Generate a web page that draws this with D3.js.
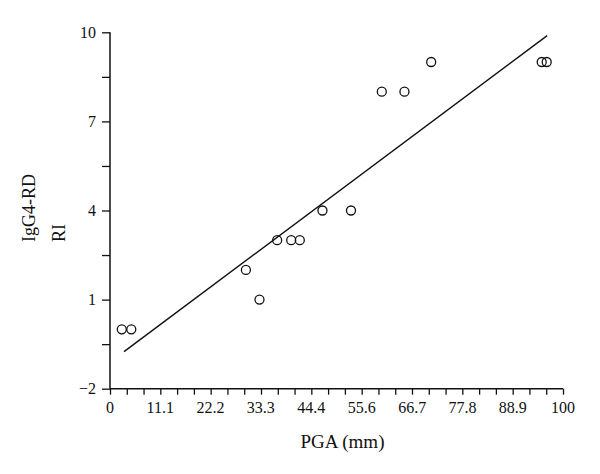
<!DOCTYPE html>
<html>
<head>
<meta charset="utf-8">
<script src="https://cdn.jsdelivr.net/npm/d3@7"></script>
<style>
  html, body { margin: 0; padding: 0; background: #fff; }
  svg { display: block; }
  text { font-family: "Liberation Serif", "DejaVu Serif", serif; fill: #111; }
</style>
</head>
<body>
<svg id="chart" width="600" height="474"></svg>
<script>
// Data
const pga = [2.6, 4.7, 30.0, 33.0, 36.9, 40.0, 41.9, 46.9, 53.2, 60.0, 65.0, 70.9, 95.3, 96.4];
const ri  = [0,   0,   2,    1,    3,    3,    3,    4,    4,    8,    8,    9,    9,    9];
const fitX = [3.1, 96.5];
const fitY = [-0.75, 9.89];
const xTickValues = [0, 11.1, 22.2, 33.3, 44.4, 55.6, 66.7, 77.8, 88.9, 100];
const yTickValues = [-2, 1, 4, 7, 10];
const xTitle = "PGA (mm)";
const yTitleLines = ["IgG4-RD", "RI"];

const svg = d3.select("#chart");
const mLeft = 110, mRight = 563, mTop = 32.3, mBottom = 388.7;

const x = d3.scaleLinear().domain([0, 100]).range([mLeft, mRight]);
const y = d3.scaleLinear().domain([-2, 10]).range([mBottom, mTop]);

// Minor ticks
const xMinor = d3.range(0, 28).map(i => i * 100 / 27);
const yMinor = d3.range(0, 9).map(i => -2 + i * 1.5);

const gx = svg.append("g").attr("transform", `translate(0,${mBottom})`);
gx.call(d3.axisBottom(x).tickValues(xMinor).tickSize(6).tickFormat(""));
gx.select(".domain").remove();
gx.selectAll(".tick line").attr("stroke", "#111").attr("stroke-width", 1.3);
gx.append("line").attr("x1", mLeft).attr("x2", mRight).attr("y1", 0).attr("y2", 0)
  .attr("stroke", "#111").attr("stroke-width", 1.5);
gx.selectAll("text.xl").data(xTickValues).enter().append("text")
  .attr("class", "xl")
  .attr("x", d => x(d)).attr("y", 24)
  .attr("text-anchor", "middle")
  .attr("font-size", 16)
  .text(d => d === 0 || d === 100 ? String(d) : d.toFixed(1));

const gy = svg.append("g").attr("transform", `translate(${mLeft},0)`);
gy.call(d3.axisLeft(y).tickValues(yMinor).tickSize(8).tickFormat(""));
gy.select(".domain").remove();
gy.selectAll(".tick line").attr("stroke", "#111").attr("stroke-width", 1.3);
gy.append("line").attr("x1", 0).attr("x2", 0).attr("y1", mTop).attr("y2", mBottom)
  .attr("stroke", "#111").attr("stroke-width", 1.5);
gy.selectAll("text.yl").data(yTickValues).enter().append("text")
  .attr("class", "yl")
  .attr("x", -14).attr("y", d => y(d) + 5.5)
  .attr("text-anchor", "end")
  .attr("font-size", 16)
  .text(d => d < 0 ? "\u2212" + Math.abs(d) : String(d));

// Fit line
svg.append("line")
  .attr("x1", x(fitX[0])).attr("y1", y(fitY[0]))
  .attr("x2", x(fitX[1])).attr("y2", y(fitY[1]))
  .attr("stroke", "#111").attr("stroke-width", 1.4);

// Points
svg.selectAll("circle.pt").data(pga.map((d, i) => [d, ri[i]])).enter()
  .append("circle").attr("class", "pt")
  .attr("cx", d => x(d[0])).attr("cy", d => y(d[1]))
  .attr("r", 4.5)
  .attr("fill", "none").attr("stroke", "#111").attr("stroke-width", 1.3);

// Titles
svg.append("text").attr("x", 342.5).attr("y", 448)
  .attr("text-anchor", "middle").attr("font-size", 19).text(xTitle);

svg.append("text").attr("transform", "translate(35,242) rotate(-90)")
  .attr("text-anchor", "start").attr("font-size", 18).text(yTitleLines[0]);
svg.append("text").attr("transform", "translate(65,242) rotate(-90)")
  .attr("text-anchor", "start").attr("font-size", 18).text(yTitleLines[1]);
</script>
</body>
</html>
